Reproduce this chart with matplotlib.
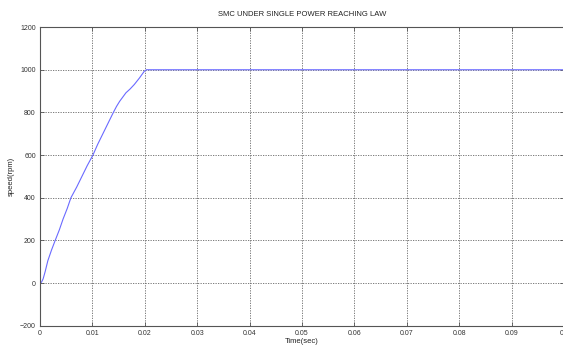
import matplotlib.pyplot as plt
import numpy as np

plt.rcParams['font.family'] = ['Liberation Sans', 'DejaVu Sans']

# speed response of the SMC drive (time in s, speed in rpm)
t = [0, 0.0003, 0.0006, 0.001, 0.0015, 0.0022, 0.0029, 0.0037, 0.0044, 0.0052,
     0.0059, 0.007, 0.008, 0.009, 0.0101, 0.011, 0.012, 0.013, 0.014, 0.0146,
     0.0152, 0.0158, 0.0164, 0.0172, 0.018, 0.019, 0.0199, 0.0203, 0.03, 0.04,
     0.05, 0.06, 0.07, 0.08, 0.09, 0.1]
speed = [0, 5, 20, 55, 105, 155, 200, 250, 300, 350,
         400, 450, 500, 550, 600, 650, 700, 750, 800, 828,
         852, 872, 892, 910, 931, 962, 993, 1000, 1000, 1000,
         1000, 1000, 1000, 1000, 1000, 1000]

xticks = [0, 0.01, 0.02, 0.03, 0.04, 0.05, 0.06, 0.07, 0.08, 0.09, 0.1]
xticklabels = ['0', '0.01', '0.02', '0.03', '0.04', '0.05', '0.06', '0.07', '0.08', '0.09', '0.1']
yticks = [-200, 0, 200, 400, 600, 800, 1000, 1200]

fig = plt.figure(figsize=(5.63, 3.47), dpi=100)
ax = fig.add_axes([0.071, 0.061, 0.931, 0.861])
ax.plot(t, speed, color='#6a6aff', linewidth=0.8)

ax.set_xlim(0, 0.1)
ax.set_ylim(-200, 1200)
ax.set_xticks(xticks)
ax.set_xticklabels(xticklabels)
ax.set_yticks(yticks)
ax.tick_params(labelsize=5, length=3, width=0.6, color='#555555', labelcolor='#333333',
               direction='in', pad=3, top=True, right=True)
ax.grid(True, linestyle=(0, (1.5, 1.5)), color='#666666', linewidth=0.6)
for s in ax.spines.values():
    s.set_color('#555555')
    s.set_linewidth(0.8)

ax.set_title('SMC UNDER SINGLE POWER REACHING LAW', fontsize=5.5, color='#222222', pad=8)
ax.set_xlabel('Time(sec)', fontsize=5.5, color='#222222', labelpad=1)
ax.set_ylabel('speed(rpm)', fontsize=5.5, color='#222222', labelpad=4)

fig.savefig('out.png', dpi=100)
